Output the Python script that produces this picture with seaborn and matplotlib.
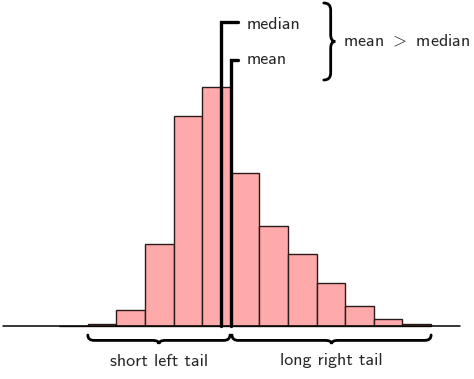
import numpy as np
import matplotlib
matplotlib.use("Agg")
import matplotlib.pyplot as plt
from matplotlib.path import Path
from matplotlib.patches import PathPatch
import seaborn as sns

# histogram data (bin edges and bar heights)
bin_edges = [0, 1, 2, 3, 4, 5, 6, 7, 8, 9, 10, 11, 12, 13]
bin_counts = [0.4, 2.5, 16, 82, 210, 239, 153.5, 100.5, 72, 43.5, 20.5, 7.5, 2]
median_value = 5.65
mean_value = 6.0
tail_labels = ["short left tail", "long right tail"]
line_labels = ["median", "mean"]
compare_label = "mean $>$ median"

sns.set_theme(style="white")
plt.rcParams["font.family"] = ["cmss10", "DejaVu Sans"]
plt.rcParams["mathtext.fontset"] = "cm"
plt.rcParams["axes.unicode_minus"] = False


def draw_brace(ax, a0, a1, pos, depth, curl, vertical=False, lw=2.0):
    """Draw a curly brace from a0 to a1, tip pointing away by depth"""
    am = (a0 + a1) / 2
    half = depth * 0.6
    pts = [(a0, pos), (a0, pos + half), (a0 + curl, pos + half),
           (am - curl, pos + half), (am, pos + half), (am, pos + depth),
           (am, pos + half), (am + curl, pos + half),
           (a1 - curl, pos + half), (a1, pos + half), (a1, pos)]
    codes = [Path.MOVETO, Path.CURVE3, Path.CURVE3, Path.LINETO,
             Path.CURVE3, Path.CURVE3, Path.CURVE3, Path.CURVE3,
             Path.LINETO, Path.CURVE3, Path.CURVE3]
    if vertical:
        pts = [(p[1], p[0]) for p in pts]
    ax.add_patch(PathPatch(Path(pts, codes), fill=False, lw=lw,
                           edgecolor="black", capstyle="round"))


fig = plt.figure(figsize=(4.74, 3.79), dpi=100)
ax = fig.add_axes([0, 0, 1, 1])

centers = [(bin_edges[i] + bin_edges[i + 1]) / 2 for i in range(len(bin_counts))]
sns.histplot(x=centers, weights=bin_counts, bins=bin_edges, ax=ax,
             color="#ffaaaa", alpha=1, edgecolor="#2a1a1a", linewidth=1.0)

# baseline
ax.plot([-1.97, 14.0], [0, 0], color="black", lw=1.1, zorder=3)

# median and mean markers
ax.plot([median_value, median_value, 6.26], [0, 304, 304],
        color="black", lw=2.4, solid_joinstyle="miter", zorder=4)
ax.plot([mean_value, mean_value, 6.26], [0, 266, 266],
        color="black", lw=2.4, solid_joinstyle="miter", zorder=4)
ax.text(6.55, 297, line_labels[0], fontsize=13, va="baseline", ha="left")
ax.text(6.55, 262, line_labels[1], fontsize=13, va="baseline", ha="left")

# right brace and comparison text
draw_brace(ax, 323, 246, 9.25, 0.4, -7, vertical=True)
ax.text(9.91, 285, compare_label, fontsize=13, va="center", ha="left")

# bottom braces for the tails
draw_brace(ax, 1.0, 5.97, -9, -9, 0.22)
draw_brace(ax, 6.04, 13.0, -9, -9, 0.22)
ax.text(3.5, -35, tail_labels[0], fontsize=13, va="center", ha="center")
ax.text(9.5, -35, tail_labels[1], fontsize=13, va="center", ha="center")

ax.set_xlim(-2.07, 14.5)
ax.set_ylim(-53, 326)
ax.set_axis_off()

fig.savefig("out.png", dpi=100)
